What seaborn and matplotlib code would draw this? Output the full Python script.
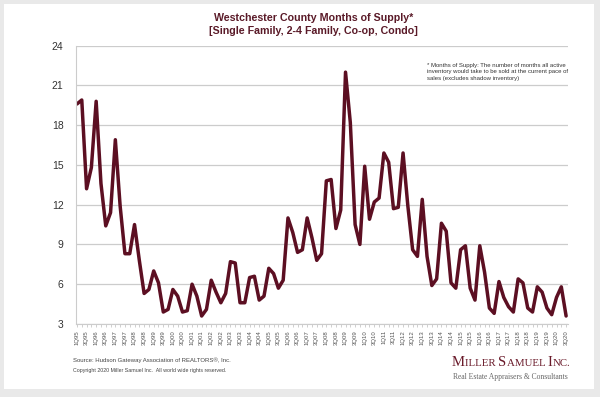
import pandas as pd
import seaborn as sns
import matplotlib.pyplot as plt
from matplotlib.patches import Rectangle

# quarterly months of supply, 1Q95 .. 3Q20
quarters = [f"{q}Q{y % 100:02d}" for y in range(1995, 2021) for q in range(1, 5)][:103]
supply = [19.6, 19.9, 13.2, 14.8, 19.8, 13.6, 10.4, 11.4,
          16.9, 11.9, 8.3, 8.3, 10.5, 7.8, 5.3, 5.6,
          7.0, 6.1, 3.9, 4.1, 5.6, 5.1, 3.9, 4.0,
          6.0, 5.1, 3.6, 4.1, 6.3, 5.4, 4.6, 5.3,
          7.7, 7.6, 4.6, 4.6, 6.5, 6.6, 4.8, 5.1,
          7.2, 6.8, 5.7, 6.3, 11.0, 9.9, 8.4, 8.6,
          11.0, 9.5, 7.8, 8.3, 13.8, 13.9, 10.2, 11.6,
          22.0, 18.2, 10.5, 9.0, 14.9, 10.9, 12.2, 12.5,
          15.9, 15.2, 11.7, 11.8, 15.9, 11.9, 8.6, 8.1,
          12.4, 8.1, 5.9, 6.4, 10.6, 10.0, 6.1, 5.7,
          8.6, 8.9, 5.7, 4.8, 8.9, 6.9, 4.2, 3.8,
          6.2, 5.0, 4.3, 3.9, 6.4, 6.1, 4.2, 3.9,
          5.8, 5.4, 4.2, 3.7, 5.0, 5.8, 3.6]
tick_labels = quarters[::2]
y_ticks = [3, 6, 9, 12, 15, 18, 21, 24]

df = pd.DataFrame({"pos": range(len(supply)), "supply": supply})

sns.set_style("white")
plt.rcParams['font.family'] = ['Liberation Sans', 'DejaVu Sans']

maroon = "#5c0f22"
fig = plt.figure(figsize=(6, 3.97), dpi=100, facecolor="#e9e9e9")
fig.patches.append(Rectangle((0.007, 0.02), 0.983, 0.97, transform=fig.transFigure,
                             facecolor="white", edgecolor="none", zorder=-5))
ax = fig.add_axes([0.1267, 0.184, 0.82, 0.701])
ax.set_facecolor("none")

sns.lineplot(data=df, x="pos", y="supply", ax=ax, color=maroon, linewidth=2.5)

ax.set_xlim(-0.2, 102.4)
ax.set_ylim(3, 24)
ax.set_yticks(y_ticks)
ax.set_yticklabels([str(v) for v in y_ticks], fontsize=7.5, color="#333333")
ax.set_xticks(range(0, len(supply), 2))
ax.set_xticklabels(tick_labels, rotation=90, fontsize=4.3, color="#555555")
ax.set_xticks(range(len(supply)), minor=True)
ax.tick_params(axis="y", length=7, width=0.8, color="#c8c8c8", pad=2)
ax.tick_params(axis="x", which="both", length=2.5, width=0.6, color="#c8c8c8", pad=2, bottom=True)
ax.yaxis.grid(True, color="#cccccc", linewidth=0.9)
ax.set_axisbelow(True)
ax.set_xlabel("")
ax.set_ylabel("")
for s in ["top", "right"]:
    ax.spines[s].set_visible(False)
for s in ["left", "bottom"]:
    ax.spines[s].set_color("#cccccc")
    ax.spines[s].set_linewidth(0.8)

fig.text(0.522, 0.968, "Westchester County Months of Supply*\n[Single Family, 2-4 Family, Co-op, Condo]",
         ha="center", va="top", fontsize=7.7, fontweight="bold", color="#5a1a28", linespacing=1.35)
fig.text(0.712, 0.842, "* Months of Supply: The number of months all active\n"
         "inventory would take to be sold at the current pace of\n"
         "sales (excludes shadow inventory)",
         ha="left", va="top", fontsize=4.35, color="#333333", linespacing=1.4)
fig.text(0.122, 0.092, "Source: Hudson Gateway Association of REALTORS®, Inc.",
         ha="left", va="center", fontsize=4.35, color="#444444")
fig.text(0.122, 0.068, "Copyright 2020 Miller Samuel Inc.  All world wide rights reserved.",
         ha="left", va="center", fontsize=3.8, color="#444444")

# logo in small caps, built piece by piece
renderer = fig.canvas.get_renderer()
x0 = 452
for piece, size in [("M", 10.5), ("ILLER ", 7.8), ("S", 10.5), ("AMUEL ", 7.8), ("I", 10.5), ("NC.", 7.8)]:
    t = fig.text(x0 / 600, 0.078, piece, ha="left", va="baseline", fontsize=size,
                 family="Liberation Serif", color="#6a1a2a")
    x0 = t.get_window_extent(renderer).x1
fig.text(0.947, 0.05, "Real Estate Appraisers & Consultants", ha="right", va="center",
         fontsize=5.5, family="Liberation Serif", color="#666666")

fig.savefig("out.png", dpi=100, facecolor=fig.get_facecolor())
